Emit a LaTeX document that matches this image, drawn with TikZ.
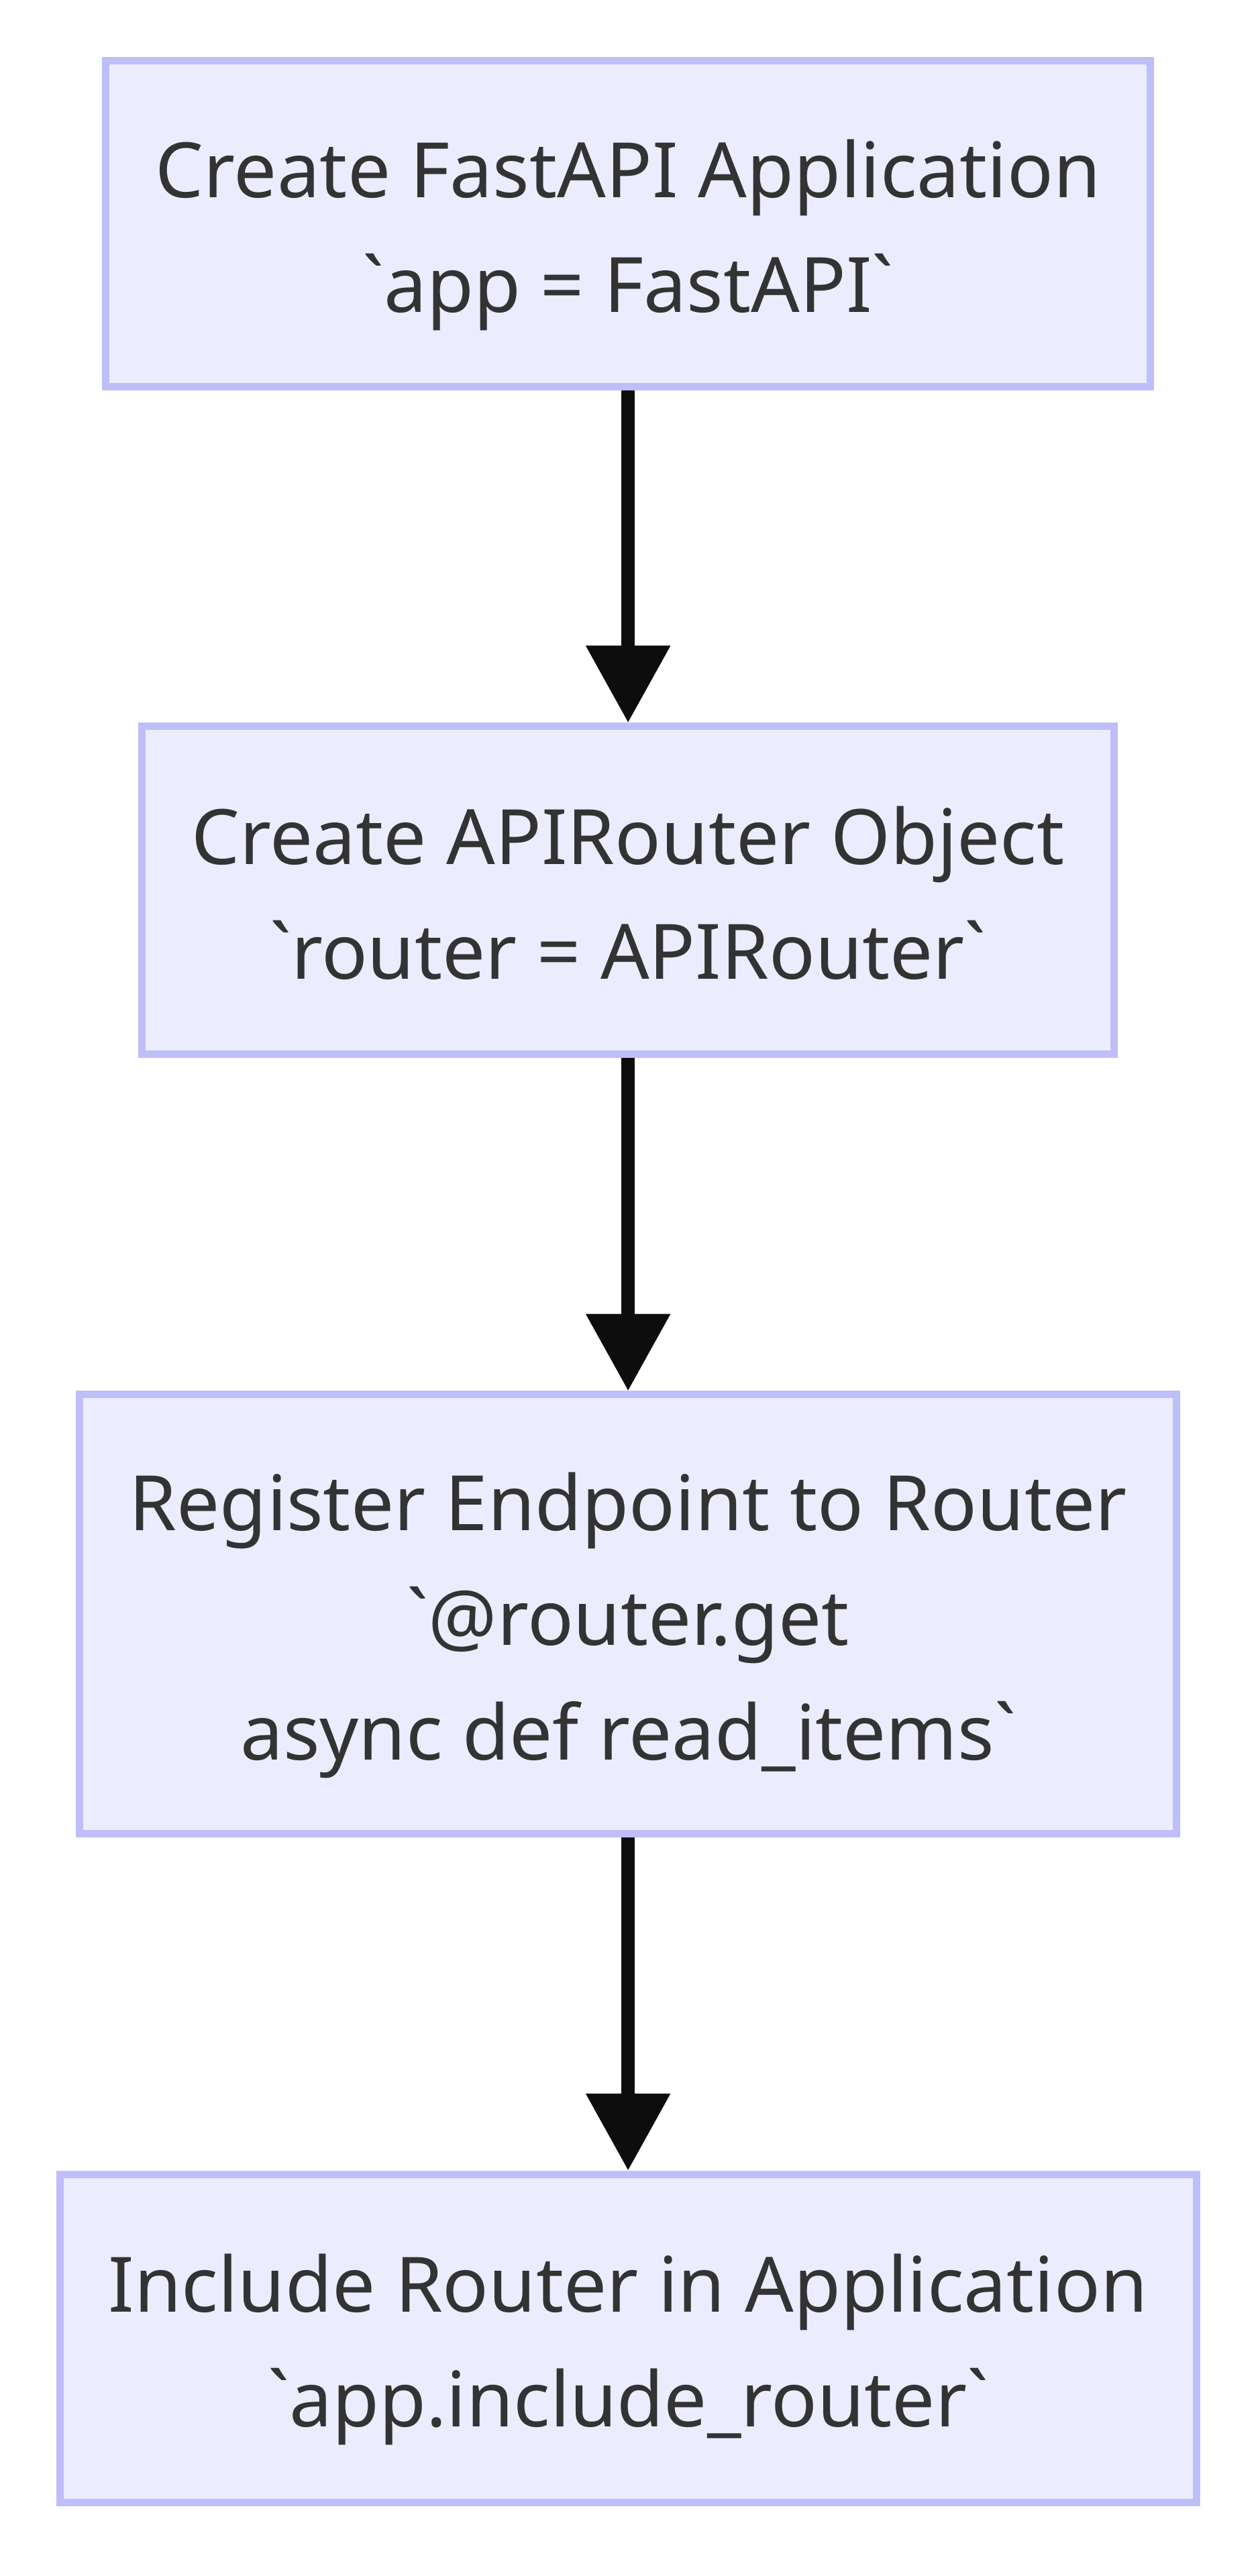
\documentclass[tikz,border=0pt]{standalone}
\usepackage{fontspec}
\newfontfamily\boxfont{Noto Sans}
\usepackage{tikz}
\usetikzlibrary{positioning}
\usetikzlibrary{arrows.meta}
\definecolor{boxfill}{RGB}{236,236,255}
\definecolor{boxline}{RGB}{190,190,248}
\definecolor{boxtext}{RGB}{51,51,51}
\definecolor{flowline}{RGB}{13,13,13}
\newcommand{\topstrut}{\rule{0pt}{49pt}}
\newcommand{\botstrut}{\rule[-11pt]{0pt}{11pt}}

\begin{document}
\begin{tikzpicture}[
    stage/.style={rectangle,draw=boxline,fill=boxfill,line width=4.5pt,text=boxtext,align=center,font=\boxfont\fontsize{46.6}{70}\selectfont},
    flow/.style={draw=flowline,line width=8.2pt,-{Triangle[length=47pt,width=49.5pt]}}
    ]
\useasboundingbox (0pt,0pt) rectangle (768pt,-1571pt);

\node[stage,minimum width=637pt,minimum height=199pt](app) at (383pt,-136.5pt){\topstrut Create FastAPI Application\\`app = FastAPI`\botstrut};
\node[stage,minimum width=593pt,minimum height=200pt,below = 202.5pt of app](router){\topstrut Create APIRouter Object\\`router = APIRouter`\botstrut};
\node[stage,minimum width=669pt,minimum height=268pt,below = 203pt of router](endpoint){\topstrut Register Endpoint to Router\\`@router.get\\async def read\_items`\botstrut};
\node[stage,minimum width=693pt,minimum height=200pt,below = 203pt of endpoint](include){\topstrut Include Router in Application\\`app.include\_router`\botstrut};

\draw[flow] (app) -- (router);
\draw[flow] (router) -- (endpoint);
\draw[flow] (endpoint) -- (include);

\end{tikzpicture}
\end{document}
